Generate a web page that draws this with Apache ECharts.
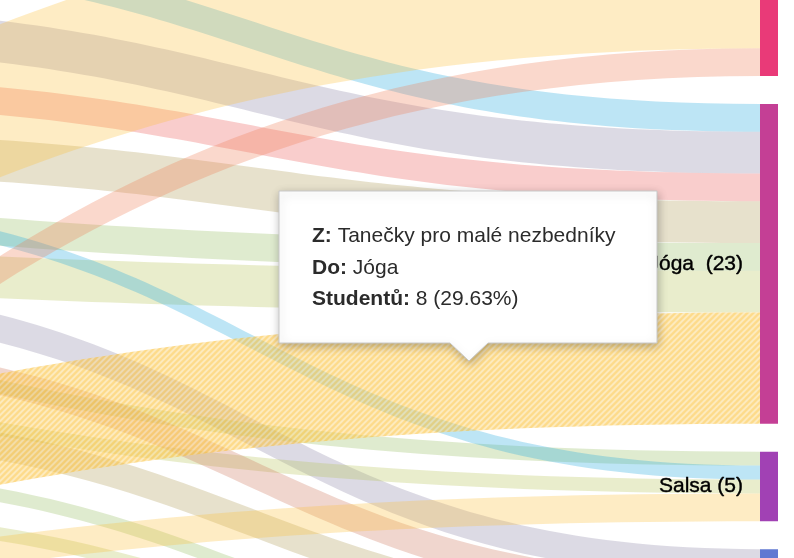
<!DOCTYPE html>
<html>
<head>
<meta charset="utf-8">
<script src="https://cdn.jsdelivr.net/npm/echarts@6/dist/echarts.min.js"></script>
<style>
  html, body { margin: 0; padding: 0; background: #ffffff; }
  #chart { width: 794px; height: 558px; }
</style>
</head>
<body>
<div id="chart"></div>
<script>
// ---------- DATA ----------
// first column of courses (students' earlier courses)
const firstCourses = ['Přípravka', 'Latino', 'Orientální tance', 'Tanečky pro malé nezbedníky', 'Společenské tance', 'Irské tance'];
const firstTotals  = [16, 3, 11, 27, 2, 2];
// second column of courses
const secondCourses = ['Balet', 'Hip hop', 'Breakdance', 'Moderní tanec', 'Step aerobik', 'Jazz dance', 'Street dance', 'Flamenco', 'Tango', 'Swing', 'Kizomba'];
const secondTotals  = [1, 3, 3, 2, 3, 4, 2, 3, 2, 1, 1];
// final column of courses
const finalCourses = ['Zumba', 'Jóga ', 'Salsa', 'Pilates', 'Bachata'];
// student transfers
const linkFrom  = ['Hip hop', 'Breakdance', 'Street dance', 'Latino', 'Latino', 'Orientální tance', 'Orientální tance', 'Jazz dance', 'Moderní tanec', 'Step aerobik', 'Irské tance', 'Flamenco', 'Tango', 'Swing', 'Kizomba', 'Přípravka', 'Společenské tance', 'Tanečky pro malé nezbedníky', 'Tanečky pro malé nezbedníky', 'Tanečky pro malé nezbedníky'];
const linkTo    = ['Jóga ', 'Jóga ', 'Pilates', 'Jóga ', 'Salsa', 'Jóga ', 'Salsa', 'Salsa', 'Jóga ', 'Jóga ', 'Zumba', 'Pilates', 'Pilates', 'Bachata', 'Bachata', 'Balet', 'Kizomba', 'Zumba', 'Salsa', 'Jóga '];
const linkValue = [2, 3, 2, 2, 1, 3, 1, 1, 2, 3, 2, 2, 2, 1, 1, 1, 1, 11, 2, 8];
// highlighted transfer shown in the tooltip
const hoverFrom = 'Tanečky pro malé nezbedníky';
const hoverTo = 'Jóga ';

// ---------- STYLES ----------
const firstColors  = ['#9a9a9a', '#94bc5f', '#b6c355', '#fcc03a', '#9a9a9a', '#ee7d55'];
const secondColors = ['#9a9a9a', '#23a8de', '#8a84a5', '#eb5855', '#af9b55', '#23a8de', '#8a84a5', '#cd765c', '#af9b55', '#94bc5f', '#b6c355'];
const finalColors  = ['#e93a78', '#c43f95', '#a141b4', '#6078d2', '#4a90d9'];
const FONT = '"Liberation Sans", Arial, Helvetica, sans-serif';

// hatched pattern for the hovered link
const pat = document.createElement('canvas');
pat.width = 6; pat.height = 6;
const g = pat.getContext('2d');
g.fillStyle = '#fbc136'; g.fillRect(0, 0, 6, 6);
g.strokeStyle = '#fcdf9a'; g.lineWidth = 1.8;
g.beginPath();
g.moveTo(-2, 8); g.lineTo(8, -2);
g.moveTo(-2, 2); g.lineTo(2, -2);
g.moveTo(4, 8); g.lineTo(8, 4);
g.stroke();

// ---------- BUILD ----------
const nodes = [];
firstCourses.forEach((n, i) => nodes.push({ name: n, value: firstTotals[i], depth: 0, itemStyle: { color: firstColors[i] }, label: { show: false } }));
secondCourses.forEach((n, i) => nodes.push({ name: n, value: secondTotals[i], depth: 1, itemStyle: { color: secondColors[i] }, label: { show: false } }));
finalCourses.forEach((n, i) => nodes.push({ name: n, depth: 2, itemStyle: { color: finalColors[i] } }));

const links = linkFrom.map((s, i) => {
  const l = { source: s, target: linkTo[i], value: linkValue[i] };
  if (s === hoverFrom && linkTo[i] === hoverTo) {
    l.lineStyle = { color: { image: pat, repeat: 'repeat' }, opacity: 0.58 };
  }
  return l;
});

const hoverIdx = linkFrom.findIndex((s, i) => s === hoverFrom && linkTo[i] === hoverTo);
const hoverVal = linkValue[hoverIdx];
const hoverTotal = firstTotals[firstCourses.indexOf(hoverFrom)];
const pct = (hoverVal / hoverTotal * 100).toFixed(2);

const rich = {
  b: { fontWeight: 'bold', fontSize: 21, fontFamily: FONT, fill: '#2b2b2b' },
  n: { fontWeight: 'normal', fontSize: 21, fontFamily: FONT, fill: '#2b2b2b' }
};
function tipLine(label, text, y) {
  return {
    type: 'text', x: 312, y: y, z: 101,
    style: { text: '{b|' + label + '}{n| ' + text + '}', rich: rich, fontSize: 21, fontFamily: FONT, fill: '#2b2b2b', verticalAlign: 'middle', align: 'left' }
  };
}

const chart = echarts.init(document.getElementById('chart'), null, { renderer: 'canvas' });
chart.setOption({
  animation: false,
  backgroundColor: '#ffffff',
  series: [{
    type: 'sankey',
    left: -1316, top: -104.7, width: 2094, height: 987.9,
    nodeWidth: 18,
    nodeGap: 28,
    nodeAlign: 'left',
    layoutIterations: 0,
    draggable: false,
    emphasis: { disabled: true },
    itemStyle: { borderWidth: 0 },
    lineStyle: { color: 'source', opacity: 0.3, curveness: 0.5 },
    label: {
      position: 'left', distance: 17, fontSize: 21, fontFamily: FONT, color: '#000',
      textBorderColor: '#000', textBorderWidth: 0.4,
      formatter: p => p.name + ' (' + p.value + ')'
    },
    data: nodes,
    links: links
  }],
  graphic: [
    {
      type: 'polygon', z: 100,
      shape: { points: [[279, 191], [657, 191], [657, 343], [488, 343], [469, 361], [450, 343], [279, 343]] },
      style: { fill: '#ffffff', stroke: '#c8c8c8', lineWidth: 1, shadowBlur: 10, shadowColor: 'rgba(0,0,0,0.28)', shadowOffsetX: 1, shadowOffsetY: 3 }
    },
    tipLine('Z:', hoverFrom, 236.5),
    tipLine('Do:', hoverTo.trim(), 268),
    tipLine('Studentů:', hoverVal + ' (' + pct + '%)', 299.5)
  ]
});
</script>
</body>
</html>
